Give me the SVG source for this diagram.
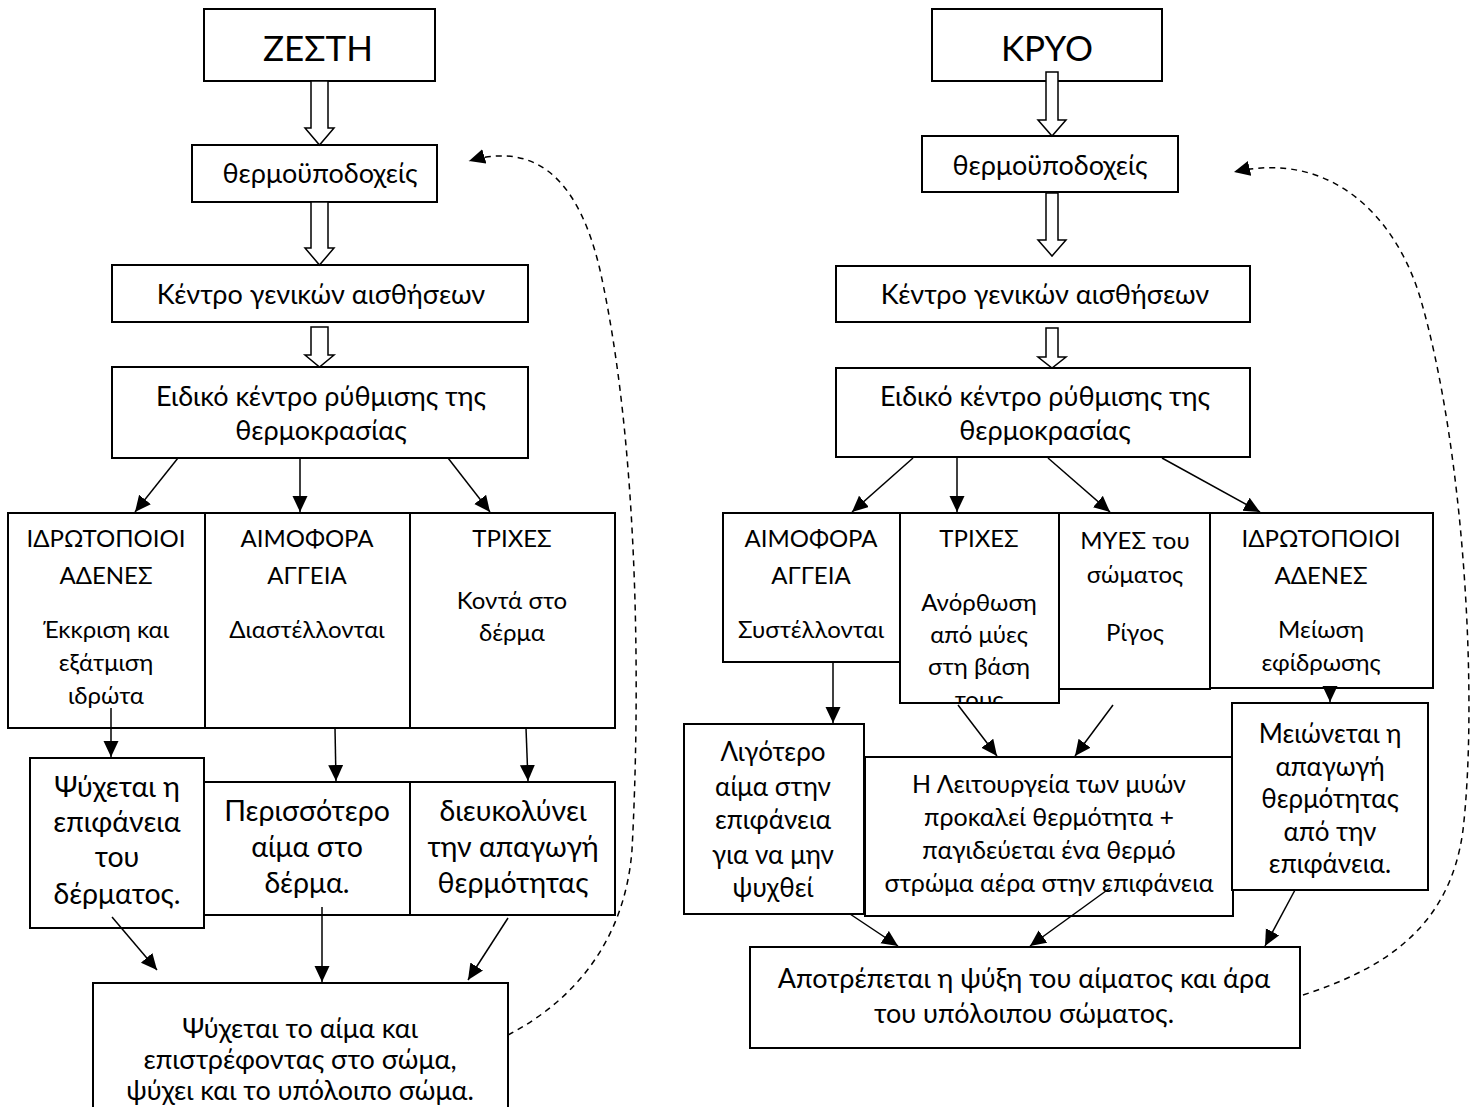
<svg xmlns="http://www.w3.org/2000/svg" width="1478" height="1107" viewBox="0 0 1478 1107">
<style>
.b{fill:#fff;stroke:#000;stroke-width:2}
.t{font-family:Lato,"Noto Sans",sans-serif;fill:#000;text-anchor:middle}
.s24{font-size:24px}.s25{font-size:25px}.s26{font-size:26px}.s27{font-size:27px}.s28{font-size:28.5px}.s35{font-size:35px}
.c{stroke:#000;stroke-width:1.5;fill:none;marker-end:url(#ah)}
.d{stroke:#000;stroke-width:1.5;fill:none;stroke-dasharray:6 5;marker-end:url(#ah)}
.h{fill:#fff;stroke:#000;stroke-width:1.5}
</style>
<defs>
<marker id="ah" markerUnits="userSpaceOnUse" markerWidth="17" markerHeight="16" refX="16" refY="7.5" orient="auto">
<path d="M0,0 L16,7.5 L0,15 z" fill="#000"/>
</marker>
<clipPath id="clipTr"><rect x="901" y="514" width="158" height="188"/></clipPath>
</defs>
<rect width="1478" height="1107" fill="#fff"/>

<!-- LEFT: ΖΕΣΤΗ -->
<g id="zesti"><rect class="b" x="204" y="9" width="231" height="72"/><text class="t s35" x="318" y="61">ΖΕΣΤΗ</text></g>
<g id="thermo-l"><rect class="b" x="192" y="145" width="245" height="57"/><text class="t s27" x="320" y="183">θερμοϋποδοχείς</text></g>
<g id="kentro-l"><rect class="b" x="112" y="265" width="416" height="57"/><text class="t s27" x="321" y="304">Κέντρο γενικών αισθήσεων</text></g>
<g id="eidiko-l"><rect class="b" x="112" y="367" width="416" height="91"/><text class="t s27" x="321" y="406">Ειδικό κέντρο ρύθμισης της</text><text class="t s27" x="321" y="440">θερμοκρασίας</text></g>
<g id="idr-l"><rect class="b" x="8" y="513" width="197" height="215"/>
<text class="t s24" x="106" y="547">ΙΔΡΩΤΟΠΟΙΟΙ</text><text class="t s24" x="106" y="584">ΑΔΕΝΕΣ</text><text class="t s24" x="106" y="638">Έκκριση και</text><text class="t s24" x="106" y="671">εξάτμιση</text><text class="t s24" x="106" y="704">ιδρώτα</text></g>
<g id="aim-l"><rect class="b" x="205" y="513" width="205" height="215"/>
<text class="t s24" x="307" y="547">ΑΙΜΟΦΟΡΑ</text><text class="t s24" x="307" y="584">ΑΓΓΕΙΑ</text><text class="t s24" x="307" y="638">Διαστέλλονται</text></g>
<g id="tri-l"><rect class="b" x="410" y="513" width="205" height="215"/>
<text class="t s24" x="512" y="547">ΤΡΙΧΕΣ</text><text class="t s24" x="512" y="609">Κοντά στο</text><text class="t s24" x="512" y="641">δέρμα</text></g>
<g id="psyx-l"><rect class="b" x="30" y="758" width="174" height="170"/>
<text class="t s28" x="117" y="797">Ψύχεται η</text><text class="t s28" x="117" y="832">επιφάνεια</text><text class="t s28" x="117" y="867">του</text><text class="t s28" x="117" y="904">δέρματος.</text></g>
<g id="peris-l"><rect class="b" x="204" y="782" width="206" height="133"/>
<text class="t s28" x="307" y="821">Περισσότερο</text><text class="t s28" x="307" y="857">αίμα στο</text><text class="t s28" x="307" y="893">δέρμα.</text></g>
<g id="dieu-l"><rect class="b" x="410" y="782" width="205" height="133"/>
<text class="t s28" x="513" y="821">διευκολύνει</text><text class="t s28" x="513" y="857">την απαγωγή</text><text class="t s28" x="513" y="893">θερμότητας</text></g>
<g id="bottom-l"><rect class="b" x="93" y="983" width="415" height="130"/>
<text class="t s27" x="300" y="1038">Ψύχεται το αίμα και</text><text class="t s27" x="300" y="1069">επιστρέφοντας στο σώμα,</text><text class="t s27" x="300" y="1100">ψύχει και το υπόλοιπο σώμα.</text></g>

<!-- RIGHT: ΚΡΥΟ -->
<g id="kryo"><rect class="b" x="932" y="9" width="230" height="72"/><text class="t s35" x="1047" y="61">ΚΡΥΟ</text></g>
<g id="thermo-r"><rect class="b" x="922" y="136" width="256" height="56"/><text class="t s27" x="1050" y="175">θερμοϋποδοχείς</text></g>
<g id="kentro-r"><rect class="b" x="836" y="266" width="414" height="56"/><text class="t s27" x="1045" y="304">Κέντρο γενικών αισθήσεων</text></g>
<g id="eidiko-r"><rect class="b" x="836" y="368" width="414" height="89"/><text class="t s27" x="1045" y="406">Ειδικό κέντρο ρύθμισης της</text><text class="t s27" x="1045" y="440">θερμοκρασίας</text></g>
<g id="aim-r"><rect class="b" x="723" y="513" width="177" height="149"/>
<text class="t s24" x="811" y="547">ΑΙΜΟΦΟΡΑ</text><text class="t s24" x="811" y="584">ΑΓΓΕΙΑ</text><text class="t s24" x="811" y="638">Συστέλλονται</text></g>
<g id="mye-r"><rect class="b" x="1059" y="513" width="151" height="176"/>
<text class="t s24" x="1135" y="549">ΜΥΕΣ του</text><text class="t s24" x="1135" y="583">σώματος</text><text class="t s24" x="1135" y="641">Ρίγος</text></g>
<g id="idr-r"><rect class="b" x="1210" y="513" width="223" height="175"/>
<text class="t s24" x="1321" y="547">ΙΔΡΩΤΟΠΟΙΟΙ</text><text class="t s24" x="1321" y="584">ΑΔΕΝΕΣ</text><text class="t s24" x="1321" y="638">Μείωση</text><text class="t s24" x="1321" y="671">εφίδρωσης</text></g>
<g id="tri-r"><rect class="b" x="900" y="513" width="159" height="190"/>
<g clip-path="url(#clipTr)"><text class="t s24" x="979" y="547">ΤΡΙΧΕΣ</text><text class="t s24" x="979" y="611">Ανόρθωση</text><text class="t s24" x="979" y="643">από μύες</text><text class="t s24" x="979" y="675">στη βάση</text><text class="t s24" x="979" y="708">τους</text></g></g>
<g id="ligo-r"><rect class="b" x="684" y="724" width="180" height="190"/>
<text class="t s26" x="773" y="761">Λιγότερο</text><text class="t s26" x="773" y="796">αίμα στην</text><text class="t s26" x="773" y="829">επιφάνεια</text><text class="t s26" x="773" y="864">για να μην</text><text class="t s26" x="773" y="897">ψυχθεί</text></g>
<g id="leit-r"><rect class="b" x="865" y="757" width="368" height="159"/>
<text class="t s25" x="1049" y="793">Η Λειτουργεία των μυών</text><text class="t s25" x="1049" y="826">προκαλεί θερμότητα +</text><text class="t s25" x="1049" y="859">παγιδεύεται ένα θερμό</text><text class="t s25" x="1049" y="892">στρώμα αέρα στην επιφάνεια</text></g>
<g id="meio-r"><rect class="b" x="1232" y="703" width="196" height="187"/>
<text class="t s26" x="1330" y="743">Μειώνεται η</text><text class="t s26" x="1330" y="776">απαγωγή</text><text class="t s26" x="1330" y="808">θερμότητας</text><text class="t s26" x="1330" y="841">από την</text><text class="t s26" x="1330" y="873">επιφάνεια.</text></g>
<g id="bottom-r"><rect class="b" x="750" y="947" width="550" height="101"/>
<text class="t s27" x="1024" y="988">Αποτρέπεται η ψύξη του αίματος και άρα</text><text class="t s27" x="1024" y="1023">του υπόλοιπου σώματος.</text></g>

<g id="connectors">
<!-- hollow arrows left -->
<polygon class="h" points="311,81 328,81 328,128 334,128 319.5,145 305,128 311,128"/>
<polygon class="h" points="311,202 328,202 328,248 334,248 319.5,265 305,248 311,248"/>
<polygon class="h" points="311,327 328,327 328,355 334,355 319.5,367 305,355 311,355"/>
<!-- hollow arrows right -->
<polygon class="h" points="1046,72 1058,72 1058,120 1066,120 1052,136 1038,120 1046,120"/>
<polygon class="h" points="1046,193 1058,193 1058,240 1066,240 1052,256 1038,240 1046,240"/>
<polygon class="h" points="1046,328 1058,328 1058,357 1066,357 1052,368 1038,357 1046,357"/>
<!-- left -->
<line class="c" x1="178" y1="458" x2="135" y2="512"/>
<line class="c" x1="300" y1="458" x2="300" y2="512"/>
<line class="c" x1="448" y1="458" x2="490" y2="512"/>
<line class="c" x1="111" y1="708" x2="111" y2="757"/>
<line class="c" x1="335" y1="728" x2="336" y2="781"/>
<line class="c" x1="526" y1="728" x2="528" y2="781"/>
<line class="c" x1="112" y1="917" x2="157" y2="970"/>
<line class="c" x1="322" y1="907" x2="322" y2="982"/>
<line class="c" x1="508" y1="918" x2="468" y2="980"/>
<path class="d" d="M508,1035 C575,1000 625,940 632,850 C640,700 640,450 600,270 C580,185 540,140 469,161"/>
<!-- right -->
<line class="c" x1="913" y1="458" x2="852" y2="512"/>
<line class="c" x1="957" y1="458" x2="957" y2="512"/>
<line class="c" x1="1048" y1="458" x2="1110" y2="512"/>
<line class="c" x1="1162" y1="458" x2="1260" y2="512"/>
<line class="c" x1="833" y1="662" x2="833" y2="723"/>
<line class="c" x1="958" y1="705" x2="997" y2="756"/>
<line class="c" x1="1113" y1="705" x2="1075" y2="756"/>
<line class="c" x1="1330" y1="688" x2="1330" y2="702"/>
<line class="c" x1="850" y1="914" x2="898" y2="946"/>
<line class="c" x1="1110" y1="888" x2="1030" y2="946"/>
<line class="c" x1="1295" y1="890" x2="1265" y2="946"/>
<path class="d" d="M1303,995 C1380,970 1450,930 1463,830 C1478,700 1465,450 1420,297 C1395,215 1330,150 1234,172"/>
</g>
</svg>
